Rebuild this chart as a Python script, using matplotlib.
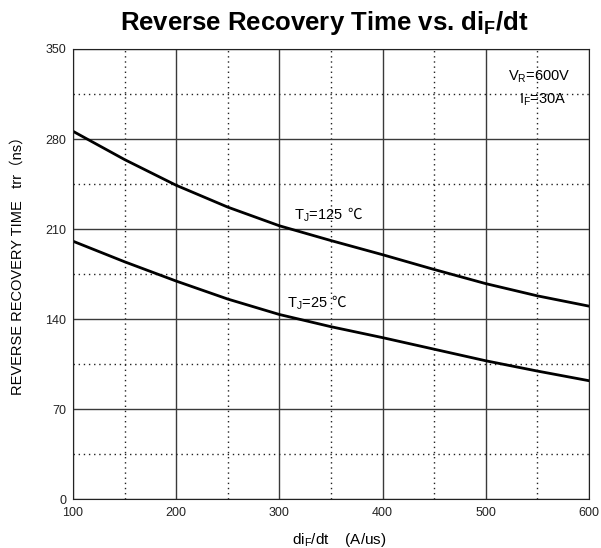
import numpy as np
import matplotlib.pyplot as plt

plt.rcParams['font.family'] = ['Liberation Sans', 'Noto Sans CJK SC', 'DejaVu Sans']
plt.rcParams['mathtext.fontset'] = 'custom'
plt.rcParams['mathtext.rm'] = 'Liberation Sans'
plt.rcParams['mathtext.bf'] = 'Liberation Sans:bold'

# di/dt (A/us) and trr (ns)
didt = [100, 150, 200, 250, 300, 350, 400, 450, 500, 550, 600]
trr_125 = [286, 264, 244, 227, 212.5, 201, 190, 178.5, 167.5, 158, 150]
trr_25 = [200.5, 184.5, 169.5, 155.5, 143.5, 134, 125.5, 116.5, 107.5, 99.5, 92]

xticks = [100, 200, 300, 400, 500, 600]
yticks = [0, 70, 140, 210, 280, 350]

fig = plt.figure(figsize=(6.01, 5.48), dpi=100)
ax = fig.add_axes([73 / 601, 1 - 499 / 548, 516 / 601, 450 / 548])

ax.plot(didt, trr_125, color='black', lw=2)
ax.plot(didt, trr_25, color='black', lw=2)

ax.set_xlim(100, 600)
ax.set_ylim(0, 350)
ax.set_xticks(xticks)
ax.set_yticks(yticks)
ax.set_xticks([150, 250, 350, 450, 550], minor=True)
ax.set_yticks([35, 105, 175, 245, 315], minor=True)
ax.tick_params(which='both', length=0, labelsize=9, colors='#222222')
ax.tick_params(axis='x', pad=6)
ax.tick_params(axis='y', pad=5)
ax.grid(which='major', color='#3a3a3a', lw=1)
ax.grid(which='minor', color='#222222', lw=1, ls=(0, (1, 2.7)))
for s in ax.spines.values():
    s.set_color('#222222')

fig.text(324 / 601, 1 - 30 / 548, r'Reverse Recovery Time vs. di$_\mathbf{F}$/dt',
         fontsize=18.5, fontweight='bold', ha='center', va='baseline')
ax.set_xlabel(r'di$_\mathregular{F}$/dt    (A/us)', fontsize=11)
ax.xaxis.set_label_coords(0.5165, -0.071)
ax.set_ylabel('REVERSE RECOVERY TIME   trr（ns）', fontsize=10.5)
ax.yaxis.set_label_coords(-0.093, 0.5256)

ax.text(581.5, 325.7, r'V$_\mathregular{R}$=600V', fontsize=10.5, ha='right', va='baseline')
ax.text(578.5, 307.6, r'I$_\mathregular{F}$=30A', fontsize=10.5, ha='right', va='baseline')

t1 = ax.text(314, 217.6, r'T$_\mathregular{J}$=125', fontsize=10.5, ha='left', va='baseline')
ax.annotate('℃', xy=(1, 217.6), xycoords=(t1, 'data'), xytext=(3, 0),
            textcoords='offset points', ha='left', va='baseline', fontsize=10.5,
            family=['Noto Sans CJK SC', 'DejaVu Sans'])
t2 = ax.text(307, 149.4, r'T$_\mathregular{J}$=25', fontsize=10.5, ha='left', va='baseline')
ax.annotate('℃', xy=(1, 149.4), xycoords=(t2, 'data'), xytext=(3, 0),
            textcoords='offset points', ha='left', va='baseline', fontsize=10.5,
            family=['Noto Sans CJK SC', 'DejaVu Sans'])

fig.savefig('out.png', dpi=100)
